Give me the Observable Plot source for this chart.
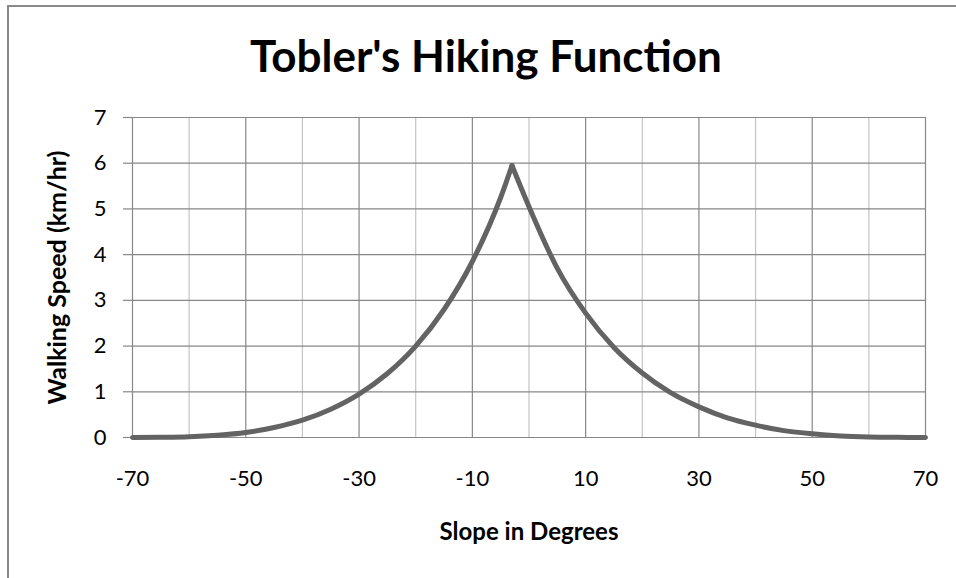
<!DOCTYPE html>
<html>
<head>
<meta charset="utf-8">
<script src="https://cdn.jsdelivr.net/npm/d3@7"></script>
<script src="https://cdn.jsdelivr.net/npm/@observablehq/plot@0.6"></script>
<style>
  html, body { margin: 0; padding: 0; background: #fff; overflow: hidden; }
  #wrap { position: relative; width: 956px; height: 578px; overflow: hidden; }
  #frame { position: absolute; left: 7px; top: 5px; width: 1000px; height: 640px; border: 2px solid #8a8a8a; box-sizing: border-box; }
  #chart { position: absolute; left: 0; top: 0; }
</style>
</head>
<body>
<div id="wrap"><div id="frame"></div><div id="chart"></div></div>
<script>
const titleText = "Tobler's Hiking Function";
const xLabel = "Slope in Degrees";
const yLabel = "Walking Speed (km/hr)";

const xTicks = [-70, -50, -30, -10, 10, 30, 50, 70];
const xMinor = [-60, -40, -20, 0, 20, 40, 60];
const yTicks = [0, 1, 2, 3, 4, 5, 6, 7];

// downhill side (up to the peak)
const slopeLeft = [-70, -65, -60, -55, -50, -45, -40, -35, -30, -25, -20, -15, -10, -5, -3];
const speedLeft = [0.0, 0.005, 0.017, 0.05, 0.11, 0.22, 0.38, 0.62, 0.95, 1.4, 2.0, 2.8, 3.85, 5.25, 5.95];
// uphill side (from the peak)
const slopeRight = [-3, 0, 5, 10, 15, 20, 25, 30, 35, 40, 45, 50, 55, 60, 65, 70];
const speedRight = [5.95, 5.05, 3.7, 2.72, 1.97, 1.41, 0.98, 0.67, 0.43, 0.27, 0.15, 0.08, 0.035, 0.012, 0.003, 0.0];

const left = slopeLeft.map((s, i) => ({slope: s, speed: speedLeft[i]}));
const right = slopeRight.map((s, i) => ({slope: s, speed: speedRight[i]}));

const dark = "#878787";
const light = "#c4c4c4";
const lineColor = "#636363";

const chart = Plot.plot({
  width: 956,
  height: 578,
  marginLeft: 132,
  marginRight: 31,
  marginTop: 117,
  marginBottom: 141,
  style: {fontFamily: "Lato, 'Open Sans', sans-serif", fontSize: "22px", color: "#000", background: "transparent"},
  x: {domain: [-70, 70]},
  y: {domain: [0, 7]},
  marks: [
    Plot.ruleX(xMinor, {stroke: light, strokeWidth: 1.2}),
    Plot.ruleX(xTicks, {stroke: dark, strokeWidth: 1.2}),
    Plot.ruleY(yTicks, {stroke: dark, strokeWidth: 1.2}),
    Plot.axisX({ticks: xTicks, tickSize: 0, tickPadding: 33, label: null, tickFormat: d => d < 0 ? "-" + Math.abs(d) : String(d), fontSize: 22}),
    Plot.axisY({ticks: yTicks, tickSize: 9, tickPadding: 17, label: null, tickFormat: d => String(d), stroke: dark, fontSize: 22, strokeWidth: 1.2}),
    Plot.line(left, {x: "slope", y: "speed", curve: "monotone-x", stroke: lineColor, strokeWidth: 5, strokeLinecap: "round", strokeLinejoin: "round"}),
    Plot.line(right, {x: "slope", y: "speed", curve: "monotone-x", stroke: lineColor, strokeWidth: 5, strokeLinecap: "round", strokeLinejoin: "round"}),
    Plot.text([titleText], {frameAnchor: "top", dy: -60, dx: -43, fontSize: 44, fontWeight: "bold", lineAnchor: "middle", fill: "#000"}),
    Plot.text([xLabel], {frameAnchor: "bottom", dy: 95, fontSize: 24, fontWeight: "bold", lineAnchor: "middle", textAnchor: "middle", fill: "#000"}),
    Plot.text([yLabel], {frameAnchor: "left", dx: -75, rotate: -90, fontSize: 25, fontWeight: "bold", lineAnchor: "middle", textAnchor: "middle", fill: "#000"})
  ]
});
document.getElementById("chart").appendChild(chart);
</script>
</body>
</html>
